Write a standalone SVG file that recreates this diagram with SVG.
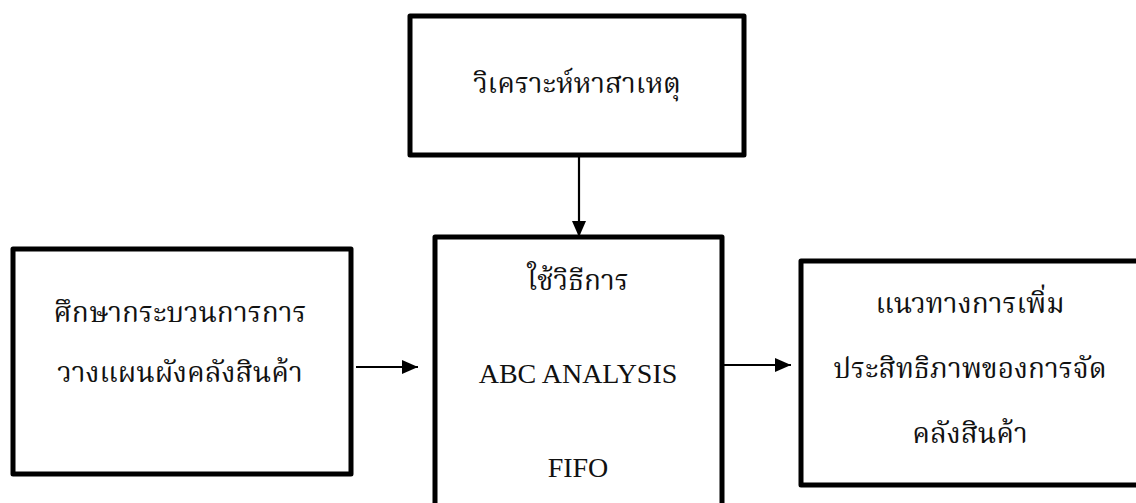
<svg xmlns="http://www.w3.org/2000/svg" width="1136" height="503" viewBox="0 0 1136 503">
  <style>
    .box { fill: #ffffff; stroke: #000000; stroke-width: 5; stroke-linejoin: round; }
    .lbl { font-family: "Liberation Serif", "Noto Serif Thai", "Noto Sans Thai", "DejaVu Serif", serif; font-size: 28px; fill: #111111; text-anchor: middle; }
    .conn { stroke: #000000; stroke-width: 2.2; fill: none; }
  </style>
  <defs>
    <marker id="arrow" viewBox="0 0 10 10" refX="10" refY="5" markerWidth="7" markerHeight="7" markerUnits="userSpaceOnUse" orient="auto">
      <path d="M0,0 L10,5 L0,10 Z" fill="#000000"/>
    </marker>
    <marker id="arrowH" viewBox="0 0 16 14" refX="16" refY="7" markerWidth="16" markerHeight="14" markerUnits="userSpaceOnUse" orient="auto">
      <path d="M0,0 L16,7 L0,14 Z" fill="#000000"/>
    </marker>
  </defs>
  <rect width="1136" height="503" fill="#ffffff"/>

  <g id="connectors">
    <line class="conn" x1="579" y1="157" x2="579" y2="237" marker-end="url(#arrowH)"/>
    <line class="conn" x1="356" y1="367" x2="418" y2="367" marker-end="url(#arrowH)"/>
    <line class="conn" x1="724" y1="365" x2="791" y2="365" marker-end="url(#arrowH)"/>
  </g>

  <g id="node-cause">
    <rect class="box" x="410" y="16" width="334" height="139"/>
    <text class="lbl" x="577" y="93">วิเคราะห์หาสาเหตุ</text>
  </g>

  <g id="node-study">
    <rect class="box" x="13" y="249" width="338" height="225"/>
    <text class="lbl" x="180" y="322">ศึกษากระบวนการการ</text>
    <text class="lbl" x="180" y="382">วางแผนผังคลังสินค้า</text>
  </g>

  <g id="node-method">
    <rect class="box" x="435" y="237" width="287" height="290"/>
    <text class="lbl" x="578" y="290">ใช้วิธีการ</text>
    <text class="lbl" x="578" y="383">ABC ANALYSIS</text>
    <text class="lbl" x="578" y="477">FIFO</text>
  </g>

  <g id="node-result">
    <rect class="box" x="801" y="261" width="360" height="224"/>
    <text class="lbl" x="970" y="313">แนวทางการเพิ่ม</text>
    <text class="lbl" x="970" y="378">ประสิทธิภาพของการจัด</text>
    <text class="lbl" x="970" y="443">คลังสินค้า</text>
  </g>
</svg>
